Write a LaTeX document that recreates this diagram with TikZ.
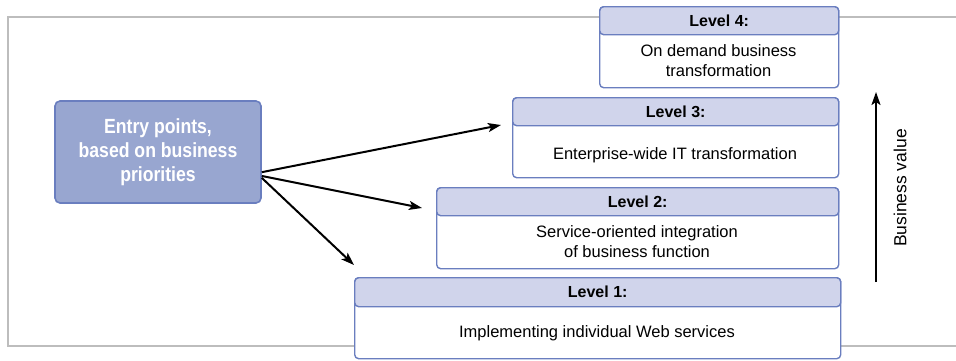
\documentclass[tikz,border=0pt]{standalone}
\usepackage{fontspec}
\setmainfont{Liberation Sans}
\newfontfamily\condbold{Liberation Sans}[FakeStretch=0.86]
\usetikzlibrary{arrows.meta,calc}
\definecolor{bord}{HTML}{6A7EBF}
\definecolor{headfill}{HTML}{D0D4EB}
\definecolor{mainfill}{HTML}{98A6D0}
\definecolor{framecol}{HTML}{BDBDBD}
\tikzset{
  lvlbody/.style={draw=bord, fill=white, line width=1.4pt, rounded corners=4pt, anchor=north west, inner sep=0pt},
  lvlhead/.style={draw=bord, fill=headfill, line width=1.4pt, rounded corners=4pt, anchor=north west, inner sep=0pt, font=\fontsize{16}{18}\selectfont\bfseries},
  lvltext/.style={align=center, font=\fontsize{16.5}{20}\selectfont},
  conn/.style={line width=2pt, -{Stealth[length=13pt,width=9pt,inset=3pt]}}
}
\begin{document}
\begin{tikzpicture}[x=1pt,y=-1pt]
\useasboundingbox (0,0) rectangle (956,360);
\draw[framecol, line width=1.2pt] (8,17) rectangle (970,346);
% main
\node[draw=bord, fill=mainfill, line width=1.6pt, rounded corners=5pt, minimum width=206pt, minimum height=102pt, inner sep=0pt,
  text=white, align=center, font=\fontsize{20.5}{24}\condbold\bfseries] (main) at (158,152) {Entry points,\\based on business\\priorities};
% Level 4
\node[lvlbody, minimum width=239pt, minimum height=81pt] (L4) at (599,6) {};
\node[lvlhead, minimum width=239pt, minimum height=28pt] (L4h) at (599,6) {Level 4:};
\node[lvltext] (L4t) at (718.5,61) {On demand business\\transformation};
% Level 3
\node[lvlbody, minimum width=326pt, minimum height=80pt] (L3) at (512,97) {};
\node[lvlhead, minimum width=326pt, minimum height=28pt] (L3h) at (512,97) {Level 3:};
\node[lvltext] (L3t) at (675,155) {Enterprise-wide IT transformation};
% Level 2
\node[lvlbody, minimum width=402pt, minimum height=81pt] (L2) at (436,187) {};
\node[lvlhead, minimum width=402pt, minimum height=28pt] (L2h) at (436,187) {Level 2:};
\node[lvltext] (L2t) at (637,242) {Service-oriented integration\\of business function};
% Level 1
\node[lvlbody, minimum width=486pt, minimum height=81pt] (L1) at (354,277) {};
\node[lvlhead, minimum width=486pt, minimum height=29pt] (L1h) at (354,277) {Level 1:};
\node[lvltext] (L1t) at (597,333) {Implementing individual Web services};
% connectors
\coordinate (e3) at (501,125);
\coordinate (e2) at (422,208);
\coordinate (e1) at (354,265);
\draw[conn] (main.-11) -- (e3);
\draw[conn] (main.-13) -- (e2);
\draw[conn] (main.-14.5) -- (e1);
% business value
\coordinate (bvb) at (876,282);
\coordinate (bvt) at (876,92);
\draw[conn] (bvb) -- (bvt);
\node[rotate=90, font=\fontsize{17.5}{20}\selectfont] (bv) at (900,188) {Business value};
\end{tikzpicture}
\end{document}
